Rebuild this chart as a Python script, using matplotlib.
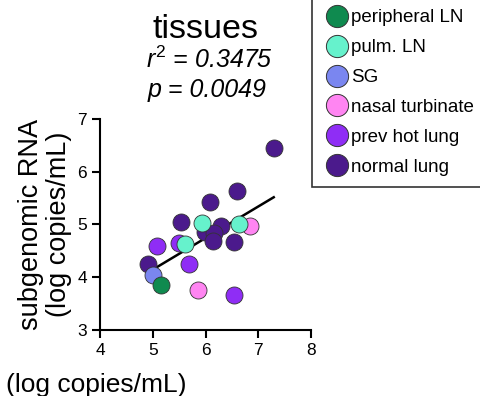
import matplotlib.pyplot as plt
import numpy as np
from matplotlib.lines import Line2D

plt.rcParams["font.family"] = ["Liberation Sans", "DejaVu Sans"]
plt.rcParams["mathtext.fontset"] = "custom"
plt.rcParams["mathtext.it"] = "Liberation Sans:italic"
plt.rcParams["mathtext.rm"] = "Liberation Sans"

GROUPS = ["peripheral LN", "pulm. LN", "SG", "nasal turbinate", "prev hot lung", "normal lung"]
COLORS = ["#0f8a4f", "#66f2cc", "#7a86f0", "#ff85f2", "#8f2df5", "#4b1a8c"]

peripheral_x = [5.16]
peripheral_y = [3.85]
pulm_x = [5.94, 6.63, 5.61]
pulm_y = [5.03, 5.01, 4.62]
sg_x = [5.01]
sg_y = [4.04]
nasal_x = [6.85, 5.85]
nasal_y = [4.96, 3.75]
prev_hot_x = [5.08, 5.49, 5.69, 6.53]
prev_hot_y = [4.59, 4.64, 4.24, 3.66]
normal_x = [7.29, 6.59, 6.09, 5.54, 5.99, 6.29, 6.15, 6.14, 6.54, 4.91]
normal_y = [6.44, 5.64, 5.43, 5.04, 4.86, 4.97, 4.83, 4.69, 4.66, 4.24]

xs = [peripheral_x, pulm_x, sg_x, nasal_x, prev_hot_x, normal_x]
ys = [peripheral_y, pulm_y, sg_y, nasal_y, prev_hot_y, normal_y]

fig = plt.figure(figsize=(4.81, 3.96), dpi=100)
ax = fig.add_axes([0.208, 0.167, 0.439, 0.533])

# regression line over all points
all_x = np.concatenate([np.array(v) for v in xs])
all_y = np.concatenate([np.array(v) for v in ys])
slope, intercept = np.polyfit(all_x, all_y, 1)
lx = np.array([all_x.min() + 0.1, all_x.max()])
ax.plot(lx, slope * lx + intercept, color="black", lw=1.8, zorder=2)

# draw normal lung first so the lighter groups sit on top
for i in [5, 4, 3, 2, 1, 0]:
    ax.scatter(xs[i], ys[i], s=150, color=COLORS[i], edgecolor="#333333",
               linewidth=0.6, zorder=3)

ax.set_xlim(4, 8)
ax.set_ylim(3, 7)
ax.set_xticks([4, 5, 6, 7, 8])
ax.set_yticks([3, 4, 5, 6, 7])
ax.tick_params(direction="out", length=6, width=1.5, labelsize=12.5)
for s in ["left", "bottom"]:
    ax.spines[s].set_linewidth(1.5)
ax.spines[["top", "right"]].set_visible(False)

ax.set_ylabel("subgenomic RNA\n(log copies/mL)", fontsize=19.5, linespacing=1.1, labelpad=4)
fig.text(0.012, 0.028, "(log copies/mL)", fontsize=19, ha="left", va="center")

fig.text(0.427, 0.925, "tissues", fontsize=24.5, ha="center", va="center")
fig.text(0.435, 0.848, r"$r^{2}$ = 0.3475", fontsize=18, ha="center", va="center", style="italic")
fig.text(0.43, 0.772, "p = 0.0049", fontsize=18, ha="center", va="center", style="italic")

handles = [Line2D([], [], marker="o", ls="", markersize=16, markerfacecolor=c,
                  markeredgecolor="#333333", markeredgewidth=0.7) for c in COLORS]
leg = fig.legend(handles, GROUPS, loc="upper left", bbox_to_anchor=(0.648, 1.005),
                 fontsize=13.5, frameon=True, fancybox=False, handletextpad=0.0,
                 labelspacing=0.68, borderpad=0.6, handlelength=1.5, borderaxespad=0)
leg.get_frame().set_edgecolor("black")
leg.get_frame().set_linewidth(1.2)

fig.savefig("out.png", dpi=100)
